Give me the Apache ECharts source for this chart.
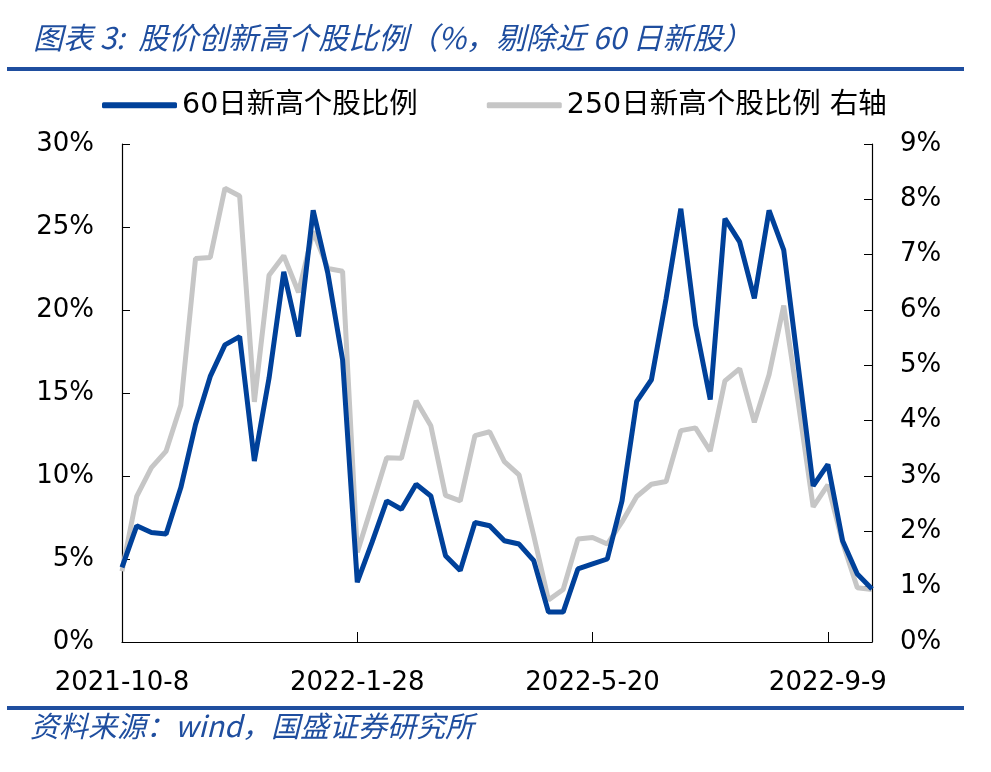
<!DOCTYPE html>
<html>
<head>
<meta charset="utf-8">
<script src="https://cdn.jsdelivr.net/npm/echarts@6/dist/echarts.min.js"></script>
<style>
html,body{margin:0;padding:0;background:#fff;}
#chart{width:991px;height:772px;}
</style>
</head>
<body>
<div id="chart"></div>
<script>
var categories = [
'2021-10-8','2021-10-15','2021-10-22','2021-10-29','2021-11-5','2021-11-12','2021-11-19','2021-11-26',
'2021-12-3','2021-12-10','2021-12-17','2021-12-24','2021-12-31','2022-1-7','2022-1-14','2022-1-21',
'2022-1-28','2022-2-4','2022-2-11','2022-2-18','2022-2-25','2022-3-4','2022-3-11','2022-3-18',
'2022-3-25','2022-4-1','2022-4-8','2022-4-15','2022-4-22','2022-4-29','2022-5-6','2022-5-13',
'2022-5-20','2022-5-27','2022-6-3','2022-6-10','2022-6-17','2022-6-24','2022-7-1','2022-7-8',
'2022-7-15','2022-7-22','2022-7-29','2022-8-5','2022-8-12','2022-8-19','2022-8-26','2022-9-2',
'2022-9-9','2022-9-16','2022-9-23','2022-9-30'
];
var high60 = [
4.5,7.0,6.6,6.5,9.3,13.1,16.0,17.9,18.4,10.9,15.9,22.3,18.4,26.0,22.2,17.0,
3.6,6.0,8.5,8.0,9.5,8.8,5.2,4.3,7.2,7.0,6.1,5.9,4.9,1.8,1.8,4.4,
4.7,5.0,8.5,14.5,15.8,20.7,26.1,19.1,14.6,25.5,24.1,20.7,26.0,23.6,16.5,9.4,
10.7,6.1,4.1,3.2
];
var high250 = [
1.28,2.63,3.15,3.45,4.28,6.93,6.95,8.2,8.06,4.34,6.63,6.98,6.32,7.42,6.75,6.70,
1.62,2.47,3.33,3.32,4.36,3.91,2.65,2.55,3.73,3.80,3.26,3.02,1.92,0.76,0.95,1.86,
1.89,1.77,2.17,2.63,2.85,2.90,3.82,3.87,3.45,4.72,4.94,3.97,4.83,6.08,4.3,2.44,
2.84,1.80,0.98,0.95
];
var seriesNames = ['60日新高个股比例', '250日新高个股比例 右轴'];
var titleText = '图表 3:  股价创新高个股比例（%，剔除近 60 日新股）';
var sourceText = '资料来源：wind，国盛证券研究所';

var FONT = '"DejaVu Sans", "Noto Sans CJK SC", sans-serif';
var CJK = '"Noto Sans CJK SC", "DejaVu Sans", sans-serif';
var chart = echarts.init(document.getElementById('chart'), null, {renderer: 'canvas'});
chart.setOption({
  animation: false,
  backgroundColor: '#fff',
  title: {
    text: titleText,
    left: 28, top: 18,
    textStyle: {fontFamily: CJK, fontSize: 30, fontWeight: 'normal', fontStyle: 'italic', color: '#1f4e9f'}
  },
  legend: {
    left: 97, top: 86,
    itemWidth: 75, itemHeight: 6, itemGap: 69,
    icon: 'roundRect',
    textStyle: {fontFamily: FONT, fontSize: 28.5, color: '#000'},
    data: seriesNames
  },
  graphic: [
    {type: 'rect', shape: {x: 7, y: 67, width: 957, height: 4}, style: {fill: '#1f4e9f'}},
    {type: 'rect', shape: {x: 7, y: 706, width: 957, height: 4}, style: {fill: '#1f4e9f'}},
    {type: 'text', left: 30, top: 711, style: {text: sourceText, font: 'italic 29px ' + CJK, fill: '#1f4e9f'}}
  ],
  grid: {left: 122, right: 119, top: 144, bottom: 130},
  xAxis: {
    type: 'category', data: categories, boundaryGap: false,
    axisLine: {lineStyle: {color: '#000', width: 1.2}},
    axisTick: {inside: true, length: 10, interval: 15, lineStyle: {color: '#000'}},
    axisLabel: {interval: 15, margin: 28, fontFamily: FONT, fontSize: 26, color: '#000'},
    splitLine: {show: false}
  },
  yAxis: [
    {
      type: 'value', min: 0, max: 30, interval: 5, position: 'left',
      axisLine: {show: true, lineStyle: {color: '#000', width: 1.2}},
      axisTick: {show: true, inside: true, length: 8, lineStyle: {color: '#000'}},
      axisLabel: {formatter: '{value}%', margin: 28, fontFamily: FONT, fontSize: 26, color: '#000'},
      splitLine: {show: false}
    },
    {
      type: 'value', min: 0, max: 9, interval: 1, position: 'right',
      axisLine: {show: true, lineStyle: {color: '#000', width: 1.2}},
      axisTick: {show: true, inside: true, length: 8, lineStyle: {color: '#000'}},
      axisLabel: {formatter: '{value}%', margin: 28, fontFamily: FONT, fontSize: 26, color: '#000'},
      splitLine: {show: false}
    }
  ],
  series: [
    {
      name: seriesNames[0], type: 'line', yAxisIndex: 0, data: high60,
      symbol: 'none', z: 3,
      lineStyle: {color: '#00419a', width: 5},
      itemStyle: {color: '#00419a'}
    },
    {
      name: seriesNames[1], type: 'line', yAxisIndex: 1, data: high250,
      symbol: 'none', z: 2,
      lineStyle: {color: '#c6c6c6', width: 5},
      itemStyle: {color: '#c6c6c6'}
    }
  ]
});
</script>
</body>
</html>
